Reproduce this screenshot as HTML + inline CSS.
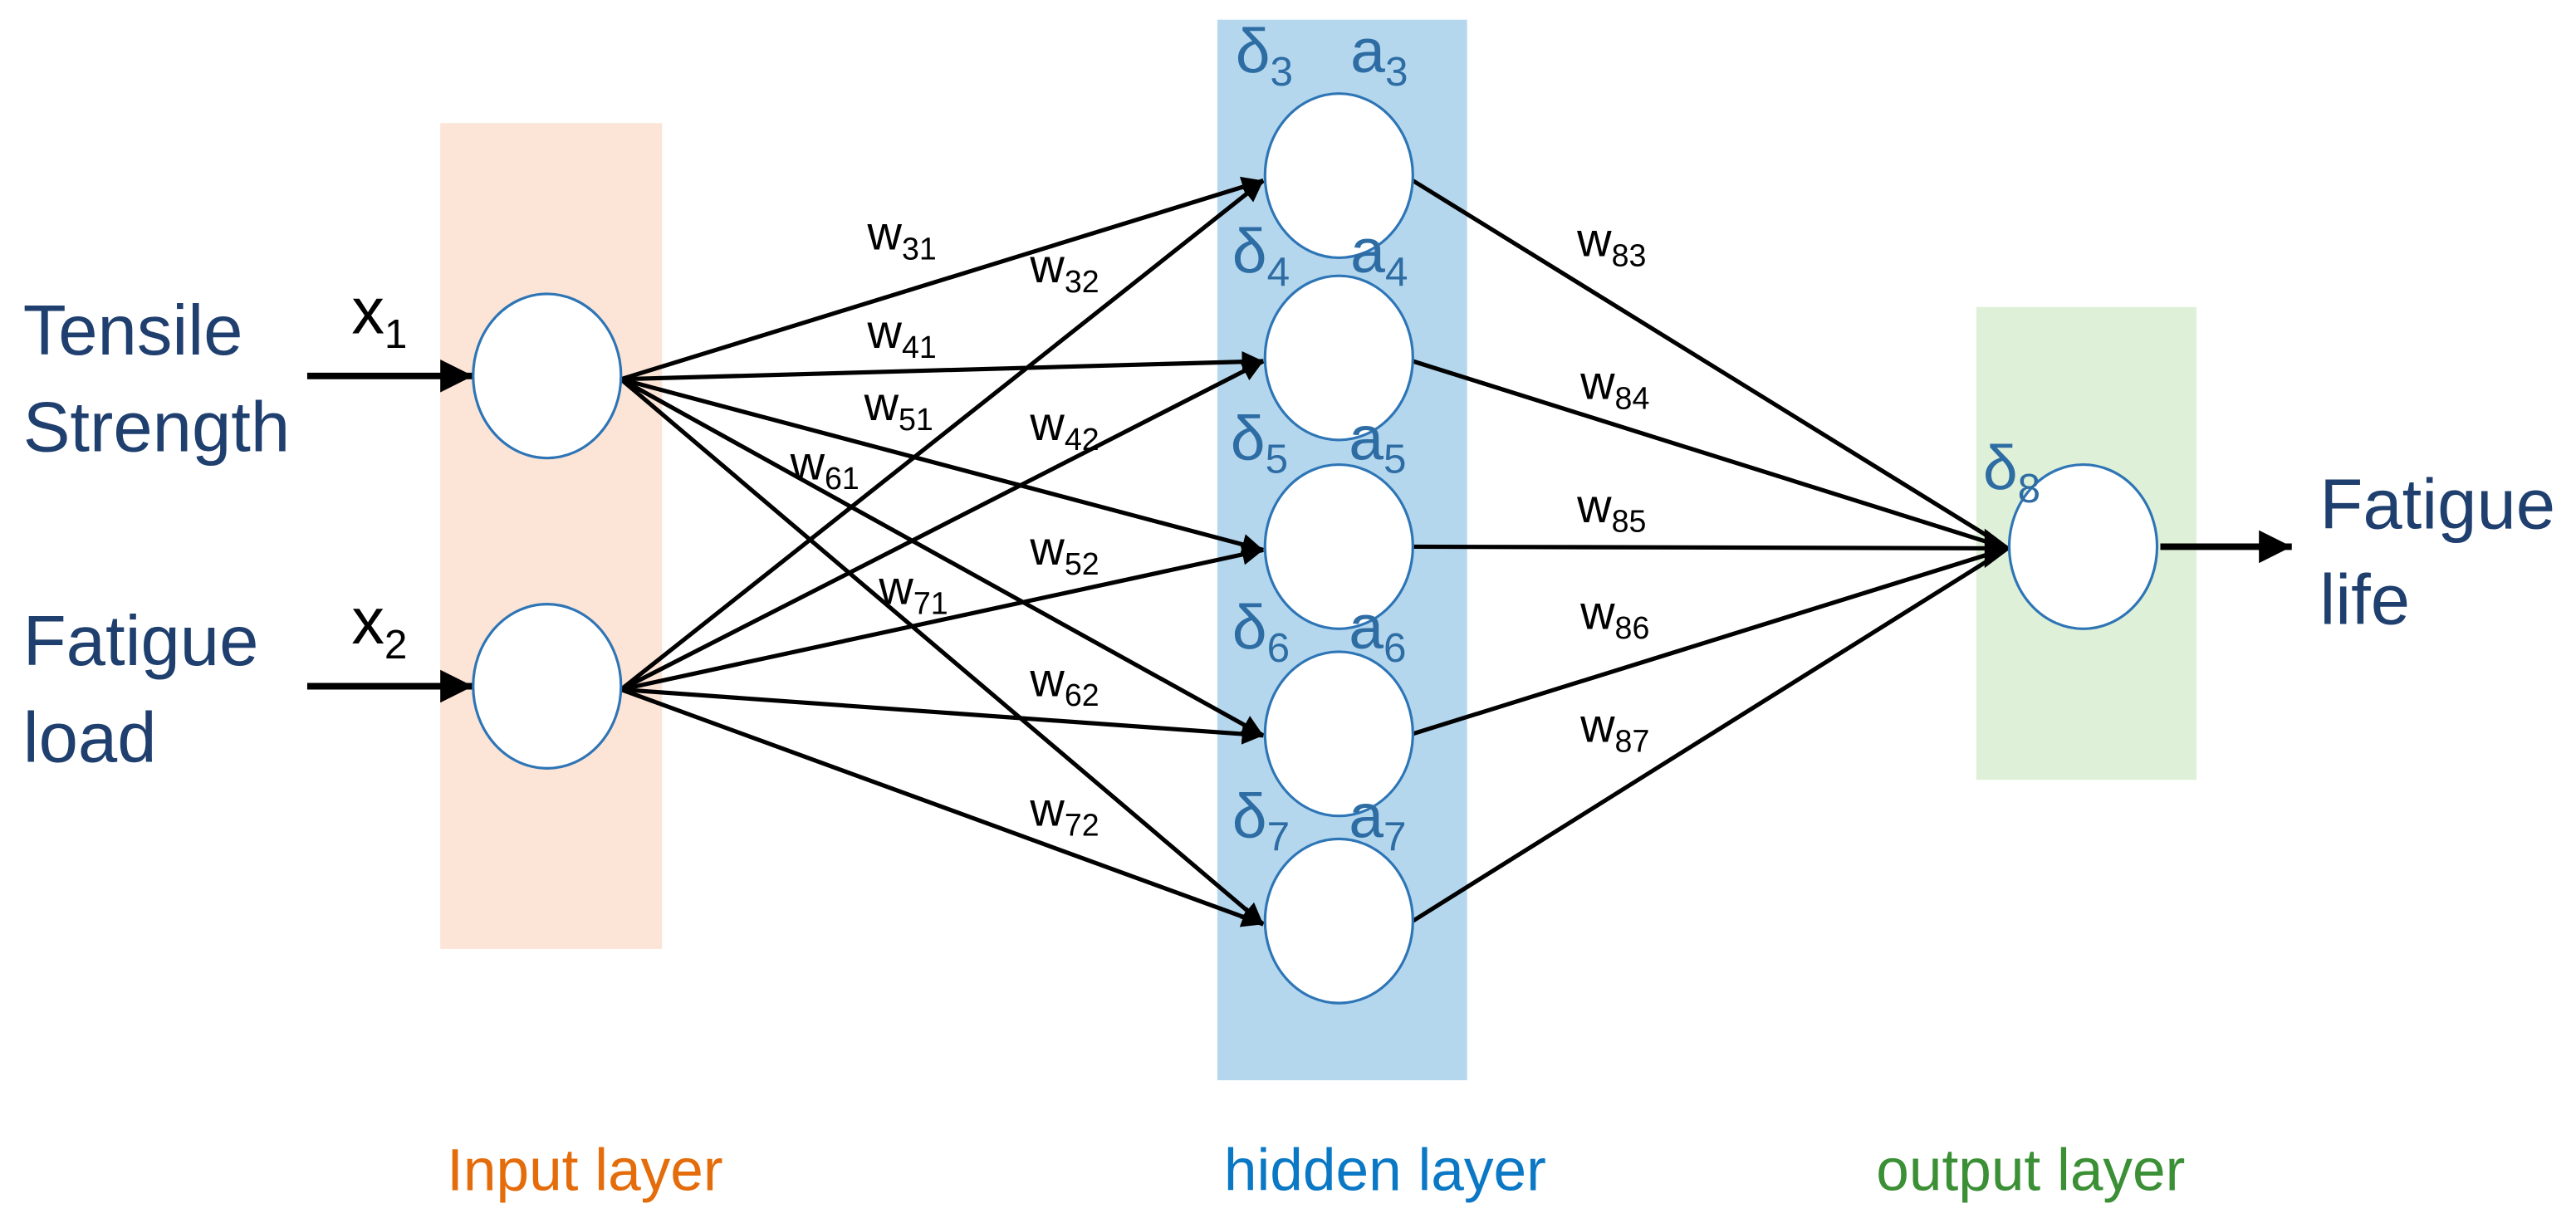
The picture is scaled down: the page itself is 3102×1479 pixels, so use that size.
<!DOCTYPE html>
<html><head><meta charset="utf-8"><style>
html,body{margin:0;padding:0;background:#fff;}
svg{display:block;}
text{font-family:"Liberation Sans",sans-serif;}
</style></head><body>
<svg width="3102" height="1479" viewBox="0 0 1568 748" preserveAspectRatio="none" xmlns="http://www.w3.org/2000/svg">
<defs>
<marker id="ah" viewBox="0 0 10 10" refX="10" refY="5" markerWidth="5" markerHeight="5" orient="auto" markerUnits="strokeWidth">
<path d="M0,0 L10,5 L0,10 z" fill="#000"/></marker>
</defs>
<rect x="268" y="75" width="135" height="503" fill="#fce4d6"/>
<rect x="741" y="12" width="152" height="646" fill="#b4d7ee"/>
<rect x="1203" y="187" width="134" height="288" fill="#dff0d8"/>
<g stroke="#000" stroke-width="2.6" fill="none" marker-end="url(#ah)">
<line x1="187" y1="229" x2="288" y2="229" stroke-width="4"/>
<line x1="187" y1="418" x2="288" y2="418" stroke-width="4"/>
<line x1="1315" y1="333" x2="1395" y2="333" stroke-width="4"/>
<line x1="378" y1="231" x2="769" y2="110"/>
<line x1="378" y1="231" x2="769" y2="220"/>
<line x1="378" y1="231" x2="769" y2="335"/>
<line x1="378" y1="231" x2="769" y2="448"/>
<line x1="378" y1="231" x2="769" y2="563"/>
<line x1="378" y1="420" x2="769" y2="110"/>
<line x1="378" y1="420" x2="769" y2="220"/>
<line x1="378" y1="420" x2="769" y2="335"/>
<line x1="378" y1="420" x2="769" y2="448"/>
<line x1="378" y1="420" x2="769" y2="563"/>
</g>
<g stroke="#000" stroke-width="2.6" fill="none">
<line x1="860" y1="110" x2="1222" y2="334"/>
<line x1="860" y1="220" x2="1222" y2="334"/>
<line x1="860" y1="333" x2="1222" y2="334"/>
<line x1="860" y1="447" x2="1222" y2="334"/>
<line x1="860" y1="561" x2="1222" y2="334"/>
</g>
<path d="M1208,322 L1224,334 L1208,346 z" fill="#000"/>
<g fill="#fff" stroke="#2e75b6" stroke-width="1.6">
<ellipse cx="333" cy="229" rx="45" ry="50"/>
<ellipse cx="333" cy="418" rx="45" ry="50"/>
<ellipse cx="815" cy="107" rx="45" ry="50"/>
<ellipse cx="815" cy="218" rx="45" ry="50"/>
<ellipse cx="815" cy="333" rx="45" ry="50"/>
<ellipse cx="815" cy="447" rx="45" ry="50"/>
<ellipse cx="815" cy="561" rx="45" ry="50"/>
<ellipse cx="1268" cy="333" rx="45" ry="50"/>
</g>
<g fill="#1f3f6e" font-size="43">
<text x="14" y="216">Tensile</text>
<text x="14" y="275">Strength</text>
<text x="14" y="405">Fatigue</text>
<text x="14" y="464">load</text>
<text x="1412" y="322">Fatigue</text>
<text x="1412" y="380">life</text>
</g>
<g fill="#000" font-size="40">
<text x="214" y="203">x<tspan font-size="25" dy="9">1</tspan></text>
<text x="214" y="392">x<tspan font-size="25" dy="9">2</tspan></text>
</g>
<g fill="#2e6da4" font-size="38">
<text x="752" y="44">δ<tspan font-size="25" dy="8">3</tspan></text>
<text x="822" y="44">a<tspan font-size="25" dy="8">3</tspan></text>
<text x="750" y="166">δ<tspan font-size="25" dy="8">4</tspan></text>
<text x="822" y="166">a<tspan font-size="25" dy="8">4</tspan></text>
<text x="749" y="280">δ<tspan font-size="25" dy="8">5</tspan></text>
<text x="821" y="280">a<tspan font-size="25" dy="8">5</tspan></text>
<text x="750" y="395">δ<tspan font-size="25" dy="8">6</tspan></text>
<text x="821" y="395">a<tspan font-size="25" dy="8">6</tspan></text>
<text x="750" y="510">δ<tspan font-size="25" dy="8">7</tspan></text>
<text x="821" y="510">a<tspan font-size="25" dy="8">7</tspan></text>
<text x="1207" y="298">δ<tspan font-size="25" dy="8">8</tspan></text>
</g>
<g fill="#000" font-size="29">
<text x="528" y="152">w<tspan font-size="19" dy="6">31</tspan></text>
<text x="627" y="172">w<tspan font-size="19" dy="6">32</tspan></text>
<text x="528" y="212">w<tspan font-size="19" dy="6">41</tspan></text>
<text x="526" y="256">w<tspan font-size="19" dy="6">51</tspan></text>
<text x="627" y="268">w<tspan font-size="19" dy="6">42</tspan></text>
<text x="481" y="292">w<tspan font-size="19" dy="6">61</tspan></text>
<text x="627" y="344">w<tspan font-size="19" dy="6">52</tspan></text>
<text x="535" y="368">w<tspan font-size="19" dy="6">71</tspan></text>
<text x="627" y="424">w<tspan font-size="19" dy="6">62</tspan></text>
<text x="627" y="503">w<tspan font-size="19" dy="6">72</tspan></text>
<text x="960" y="156">w<tspan font-size="19" dy="6">83</tspan></text>
<text x="962" y="243">w<tspan font-size="19" dy="6">84</tspan></text>
<text x="960" y="318">w<tspan font-size="19" dy="6">85</tspan></text>
<text x="962" y="383">w<tspan font-size="19" dy="6">86</tspan></text>
<text x="962" y="452">w<tspan font-size="19" dy="6">87</tspan></text>
</g>
<g font-size="36">
<text x="272" y="725" fill="#e46c0a">Input layer</text>
<text x="745" y="725" fill="#0a78c4">hidden layer</text>
<text x="1142" y="725" fill="#3b8f35">output layer</text>
</g>
</svg>
</body></html>
